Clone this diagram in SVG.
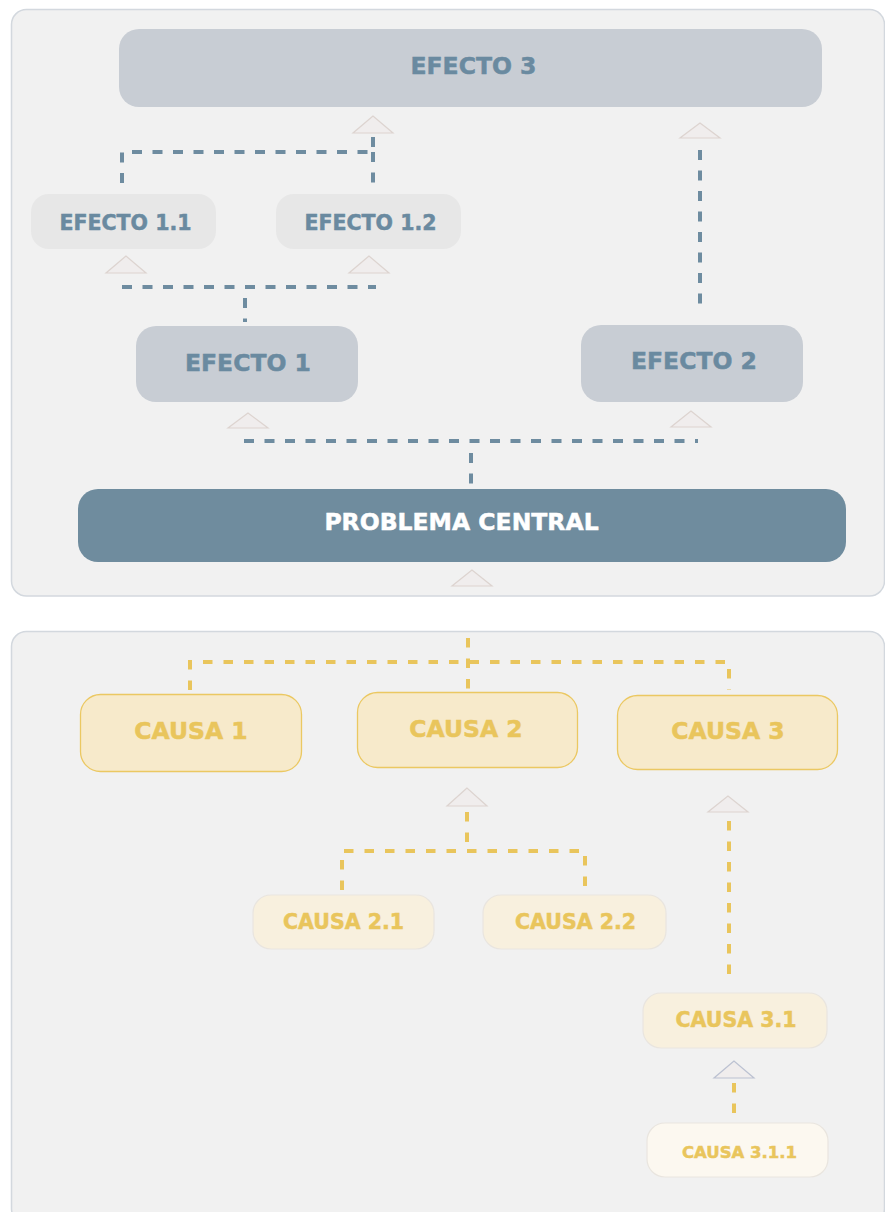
<svg xmlns="http://www.w3.org/2000/svg" width="885" height="1212" viewBox="0 0 885 1212">
<defs>
<style>
.panel{fill:#f1f1f1;stroke:#d3d8de;stroke-width:1.5}
.e-main{fill:#c8cdd4}
.e-sub{fill:#e7e7e7}
.prob{fill:#6f8c9e}
.c-main{fill:#f7eacb;stroke:#ebc862;stroke-width:1.3}
.c-sub{fill:#f8f0de;stroke:#e9e5df;stroke-width:1.2}
.c-sub2{fill:#fcf8f0;stroke:#e9e5df;stroke-width:1.2}
text{font-family:"DejaVu Sans","Verdana",sans-serif;font-weight:bold;text-anchor:middle;stroke-width:0.5}
.te{fill:#6a8aa0;stroke:#6a8aa0}
.tw{fill:#ffffff;stroke:#ffffff}
.tc{fill:#e9c55c;stroke:#e9c55c}
.l1{font-size:23.5px}
.l2{font-size:20.5px}
.l3{font-size:16.5px}
.cb{fill:none;stroke:#6e8ca0;stroke-width:4;stroke-dasharray:10 10.5}
.cy{fill:none;stroke:#e9c55c;stroke-width:4;stroke-dasharray:9.5 11}
.tri{fill:#f0eded;stroke:#ddd4d0;stroke-width:1.2}
.tri2{fill:#f0eded;stroke:#bcc2d2;stroke-width:1.2}
</style>
</defs>
<g id="panels">
<rect class="panel" x="11.5" y="9.5" width="873" height="586.5" rx="15"/>
<rect class="panel" x="11.5" y="631.5" width="873" height="592" rx="15"/>
</g>
<g id="connectors">
<path class="cb" d="M373 137 V152 H122 V190"/>
<path class="cb" d="M373 152 V190"/>
<path class="cb" d="M700 150 V312"/>
<path class="cb" d="M122 287 H376"/>
<path class="cb" d="M245 298 V322"/>
<path class="cb" d="M244 441 H698"/>
<path class="cb" d="M471 453 V489"/>
<path class="cy" d="M468 638 V690"/>
<path class="cy" d="M190 690 V662 H729 V690"/>
<path class="cy" d="M467 812 V851"/>
<path class="cy" d="M342 890 V851 H585 V890"/>
<path class="cy" d="M729 821 V985"/>
<path class="cy" d="M734 1083 V1119"/>
<polygon class="tri" points="373,116 353,133 393,133"/>
<polygon class="tri" points="700,123 680,138 720,138"/>
<polygon class="tri" points="126,256 106,273 146,273"/>
<polygon class="tri" points="369,256 349,273 389,273"/>
<polygon class="tri" points="248,413 228,428 268,428"/>
<polygon class="tri" points="691,411 671,427 711,427"/>
<polygon class="tri" points="472,570 452,586 492,586"/>
<polygon class="tri" points="467,788 447,806 487,806"/>
<polygon class="tri" points="728,796 708,812 748,812"/>
<polygon class="tri2" points="734,1061 714,1078 754,1078"/>
</g>
<g id="efecto3">
<rect class="e-main" x="119" y="29" width="703" height="78" rx="20"/>
<text class="te l1" x="473.5" y="73.5">EFECTO 3</text>
</g>
<g id="efecto11">
<rect class="e-sub" x="31" y="194" width="185" height="55" rx="18"/>
<text class="te l2" x="125.5" y="229.5">EFECTO 1.1</text>
</g>
<g id="efecto12">
<rect class="e-sub" x="276" y="194" width="185" height="55" rx="18"/>
<text class="te l2" x="370.5" y="229.5">EFECTO 1.2</text>
</g>
<g id="efecto1">
<rect class="e-main" x="136" y="326" width="222" height="76" rx="20"/>
<text class="te l1" x="248" y="371">EFECTO 1</text>
</g>
<g id="efecto2">
<rect class="e-main" x="581" y="325" width="222" height="77" rx="20"/>
<text class="te l1" x="694" y="369">EFECTO 2</text>
</g>
<g id="problema">
<rect class="prob" x="78" y="489" width="768" height="73" rx="20"/>
<text class="tw l1" x="461.5" y="530">PROBLEMA CENTRAL</text>
</g>
<g id="causa1">
<rect class="c-main" x="80.5" y="694.5" width="221" height="77" rx="20"/>
<text class="tc l1" x="191" y="739">CAUSA 1</text>
</g>
<g id="causa2">
<rect class="c-main" x="357.5" y="692.5" width="220" height="75" rx="20"/>
<text class="tc l1" x="466" y="737">CAUSA 2</text>
</g>
<g id="causa3">
<rect class="c-main" x="617.5" y="695.5" width="220" height="74" rx="20"/>
<text class="tc l1" x="728" y="739">CAUSA 3</text>
</g>
<g id="causa21">
<rect class="c-sub" x="253" y="895" width="181" height="54" rx="18"/>
<text class="tc l2" x="343.5" y="929">CAUSA 2.1</text>
</g>
<g id="causa22">
<rect class="c-sub" x="483" y="895" width="183" height="54" rx="18"/>
<text class="tc l2" x="575.5" y="929">CAUSA 2.2</text>
</g>
<g id="causa31">
<rect class="c-sub" x="643" y="993" width="184" height="55" rx="18"/>
<text class="tc l2" x="736" y="1027">CAUSA 3.1</text>
</g>
<g id="causa311">
<rect class="c-sub2" x="647" y="1123" width="181" height="54" rx="18"/>
<text class="tc l3" x="739.5" y="1158">CAUSA 3.1.1</text>
</g>
</svg>
